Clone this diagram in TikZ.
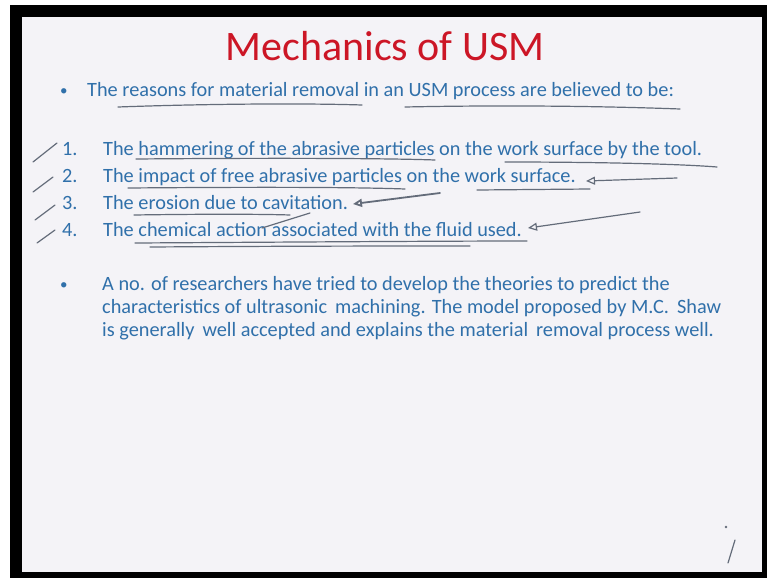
\documentclass[tikz,border=0pt]{standalone}
\usepackage{fontspec}
\setmainfont{Carlito}
\usetikzlibrary{arrows.meta}
\definecolor{slidebg}{RGB}{244,243,247}
\definecolor{slidered}{RGB}{204,22,38}
\definecolor{slideblue}{RGB}{48,112,170}
\definecolor{pen}{RGB}{100,108,122}
\begin{document}
\begin{tikzpicture}[x=1pt, y=-1pt,
	every node/.style={inner sep=0pt, anchor=base west, text=slideblue, font=\fontsize{20.3}{24}\selectfont},
	dot/.style={font=\fontsize{15}{18}\selectfont},
	ink/.style={draw=pen, line width=1.2pt, line cap=round, line join=round},
	hook/.style={ink, {Triangle[open, length=9pt, width=8pt]}-}]
	\useasboundingbox (0,0) rectangle (767,578);
	\fill[white] (0,0) rectangle (767,578);
	\fill[black] (10,5) rectangle (767,578);
	\fill[slidebg] (22,17) rectangle (762,572);
	
	\node[anchor=base, text=slidered, font=\fontsize{42}{50}\selectfont] (title) at (385,60) {Mechanics of USM};
	
	\node[dot] (d1) at (60,95) {•};
	\node (l0) at (87,96) {The reasons for material removal in an USM process are believed to be:};
	\node (n1) at (62,155) {1.};
	\node (i1) at (103,155) {The hammering of the abrasive particles on the work surface by the tool.};
	\node (n2) at (62,182) {2.};
	\node (i2) at (103,182) {The impact of free abrasive particles on the work surface.};
	\node (n3) at (62,209) {3.};
	\node (i3) at (103,209) {The erosion due to cavitation.};
	\node (n4) at (62,236) {4.};
	\node (i4) at (103,236) {The chemical action associated with the fluid used.};
	\node[dot] (d2) at (60,289) {•};
	\node (p1) at (102,290) {A no. of researchers have tried to develop the theories to predict the};
	\node (p2) at (102,313) {characteristics of ultrasonic\, machining. The model proposed by M.C.\, Shaw};
	\node (p3) at (102,336) {is generally\, well accepted and explains the material\, removal process well.};
	
	% pen strokes
	\path[ink]
	(118,107) .. controls (200,104) and (300,103) .. (362,105)
	(405,107) .. controls (500,105) and (600,106) .. (680,109)
	(33,162) -- (57,143)
	(33,192) -- (53,177)
	(35,220) -- (55,205)
	(37,243) -- (55,230)
	(136,159) .. controls (250,158) and (380,158) .. (435,160)
	(505,162) .. controls (600,162) and (680,164) .. (717,167)
	(128,188) .. controls (250,187) and (350,187) .. (405,189)
	(477,190) -- (590,189)
	(134,215) .. controls (200,214) and (260,214) .. (290,215)
	(262,228) -- (310,213)
	(135,243) .. controls (300,242) and (450,241) .. (527,241)
	(150,247) .. controls (300,246) and (400,246) .. (470,246)
	(728,563) -- (735,540)
	;
	\draw[hook] (586,181) -- (677,178);
	\draw[hook, line width=1.8pt] (353,204) -- (440,193);
	\draw[hook] (528,228) -- (640,212);
	\fill[pen] (726,527) circle (1.3);
\end{tikzpicture}
\end{document}
